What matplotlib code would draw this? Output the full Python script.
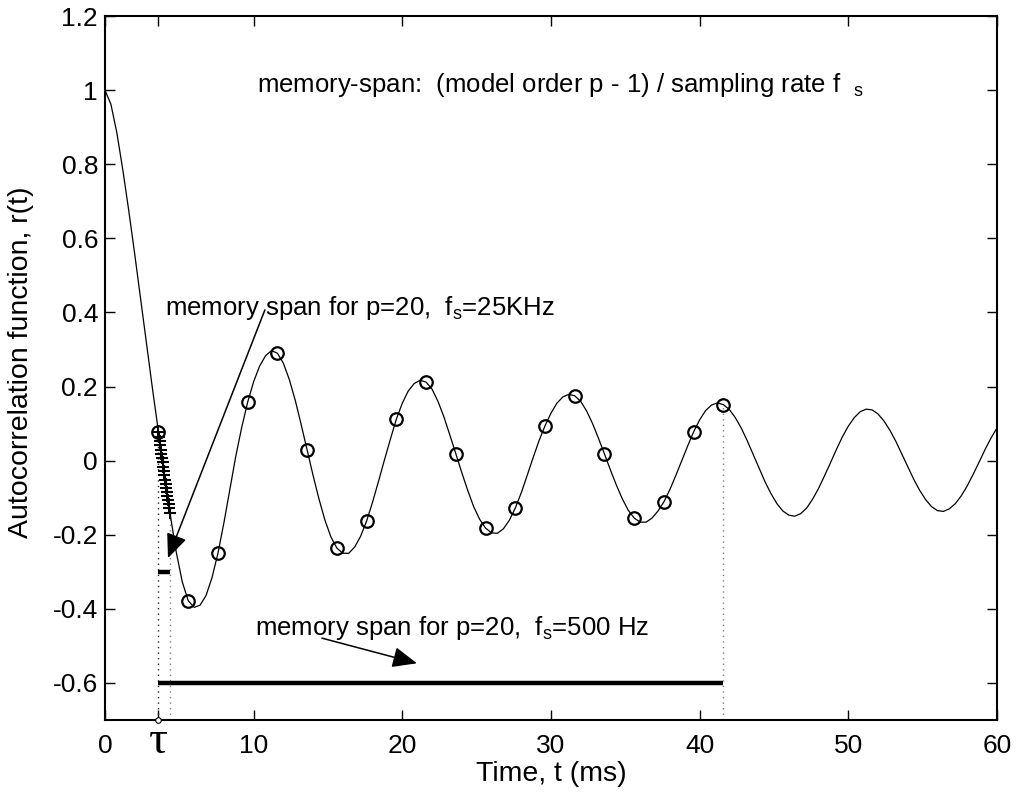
import numpy as np
import matplotlib
matplotlib.use("Agg")
import matplotlib.pyplot as plt
from matplotlib.transforms import blended_transform_factory

plt.rcParams["font.family"] = ["Liberation Sans", "DejaVu Sans"]
plt.rcParams["mathtext.fontset"] = "custom"
plt.rcParams["mathtext.rm"] = "Liberation Sans"
plt.rcParams["mathtext.it"] = "Liberation Sans"
plt.rcParams["mathtext.default"] = "regular"

# autocorrelation r(t), every 0.4 ms from 0 to 60 ms
t_step = 0.4
r_curve = [
    1.000, 0.962, 0.885, 0.785, 0.675, 0.558, 0.436, 0.314, 0.193, 0.077,
    -0.038, -0.148, -0.248, -0.327, -0.378, -0.396, -0.390, -0.364, -0.316, -0.250,
    -0.168, -0.078, 0.012, 0.090, 0.158, 0.213, 0.255, 0.283, 0.297, 0.290,
    0.263, 0.219, 0.163, 0.097, 0.028, -0.040, -0.104, -0.161, -0.206, -0.236,
    -0.250, -0.250, -0.233, -0.204, -0.163, -0.112, -0.056, 0.002, 0.058, 0.112,
    0.155, 0.188, 0.208, 0.217, 0.212, 0.193, 0.160, 0.118, 0.069, 0.019,
    -0.032, -0.080, -0.124, -0.158, -0.182, -0.195, -0.196, -0.184, -0.161, -0.128,
    -0.087, -0.040, 0.008, 0.054, 0.094, 0.128, 0.155, 0.172, 0.179, 0.175,
    0.160, 0.134, 0.100, 0.060, 0.018, -0.025, -0.066, -0.103, -0.134, -0.155,
    -0.166, -0.166, -0.155, -0.136, -0.111, -0.078, -0.040, 0.000, 0.040, 0.078,
    0.110, 0.135, 0.150, 0.156, 0.151, 0.138, 0.116, 0.088, 0.054, 0.017,
    -0.020, -0.057, -0.089, -0.116, -0.136, -0.147, -0.150, -0.143, -0.128, -0.104,
    -0.075, -0.041, -0.006, 0.030, 0.064, 0.093, 0.116, 0.132, 0.139, 0.137,
    0.126, 0.107, 0.082, 0.052, 0.018, -0.016, -0.050, -0.080, -0.105, -0.124,
    -0.135, -0.137, -0.130, -0.116, -0.095, -0.068, -0.037, -0.004, 0.030, 0.061,
    0.088,
]
t_curve = np.arange(len(r_curve)) * t_step

tau = 3.6            # ms, start of the memory span
p_order = 20
fs_slow = 500.0      # Hz  -> circles
fs_fast = 25000.0    # Hz  -> plus markers

# samples at 25 kHz
r_plus = [0.077, 0.065, 0.054, 0.042, 0.030, 0.019, 0.007, -0.005, -0.016, -0.028,
          -0.040, -0.051, -0.062, -0.074, -0.085, -0.096, -0.107, -0.118, -0.129, -0.140]

t_circ = tau + np.arange(p_order) * 1000.0 / fs_slow
idx = np.round(t_circ / t_step).astype(int)
r_circ = np.array(r_curve)[idx]
t_plus = tau + np.arange(p_order) * 1000.0 / fs_fast

xticks = [0, tau, 10, 20, 30, 40, 50, 60]
xticklabels = ["0", "", "10", "20", "30", "40", "50", "60"]
yticks = [-0.6, -0.4, -0.2, 0, 0.2, 0.4, 0.6, 0.8, 1.0, 1.2]
yticklabels = ["-0.6", "-0.4", "-0.2", "0", "0.2", "0.4", "0.6", "0.8", "1", "1.2"]

fig = plt.figure(figsize=(10.2, 7.94), dpi=100)
ax = fig.add_axes([0.1029, 0.0932, 0.8745, 0.8866])

# dotted guides
ax.plot([tau, tau], [-0.7, r_circ[0]], color="0.15", ls=(0, (1, 3)), lw=1)
ax.plot([t_plus[-1], t_plus[-1]], [-0.7, r_plus[-1]], color="0.5", ls=(0, (1, 3)), lw=1)
ax.plot([t_circ[-1], t_circ[-1]], [-0.7, r_circ[-1]], color="0.5", ls=(0, (1, 3)), lw=1)

ax.plot(t_curve, r_curve, color="k", lw=0.9)
ax.plot(t_circ, r_circ, "o", mfc="none", mec="k", ms=9, mew=1.6)
ax.plot(t_plus, r_plus, "+", color="k", ms=9, mew=1.5)

# memory span bars
ax.plot([tau, t_circ[-1]], [-0.6, -0.6], color="k", lw=3.2, solid_capstyle="butt")
ax.plot([tau, t_plus[-1]], [-0.3, -0.3], color="k", lw=3.2, solid_capstyle="butt")
ax.plot([tau], [-0.7], "o", mfc="white", mec="k", ms=4, mew=0.8, clip_on=False, zorder=5)

fs = 18.5
ax.text(10.2, 0.995, "memory-span:  (model order p - 1) / sampling rate f  $_{s}$",
        fontsize=fs, va="baseline", ha="left")
ax.text(4.03, 0.394, "memory span for p=20,  f$_{s}$=25KHz",
        fontsize=fs, va="baseline", ha="left")
ax.text(10.1, -0.471, "memory span for p=20,  f$_{s}$=500 Hz",
        fontsize=fs, va="baseline", ha="left")

arrow_kw = dict(arrowstyle="-|>,head_length=0.75,head_width=0.32", color="k",
                lw=1.1, mutation_scale=20, shrinkA=0, shrinkB=0)
ax.annotate("", xy=(4.24, -0.263), xytext=(10.76, 0.407), arrowprops=arrow_kw)
ax.annotate("", xy=(20.98, -0.547), xytext=(14.59, -0.479), arrowprops=arrow_kw)

ax.set_xlim(0, 60)
ax.set_ylim(-0.7, 1.2)
ax.set_xticks(xticks)
ax.set_xticklabels(xticklabels)
ax.set_yticks(yticks)
ax.set_yticklabels(yticklabels)
ax.tick_params(direction="in", length=7, width=1, labelsize=19,
               top=True, right=True)
ax.tick_params(axis="x", pad=10)
ax.tick_params(axis="y", pad=5)
for s in ax.spines.values():
    s.set_linewidth(1.5)

trans = blended_transform_factory(ax.transData, ax.transAxes)
ax.text(tau, -0.047, "τ", transform=trans, ha="center", va="baseline",
        fontsize=34, family=["Liberation Serif", "DejaVu Serif"])

ax.set_xlabel("Time, t (ms)", fontsize=20.5)
ax.set_ylabel("Autocorrelation function, r(t)", fontsize=20.5)
ax.xaxis.set_label_coords(0.5, -0.058)
ax.yaxis.set_label_coords(-0.08, 0.508)

fig.savefig("out.png", dpi=100)
